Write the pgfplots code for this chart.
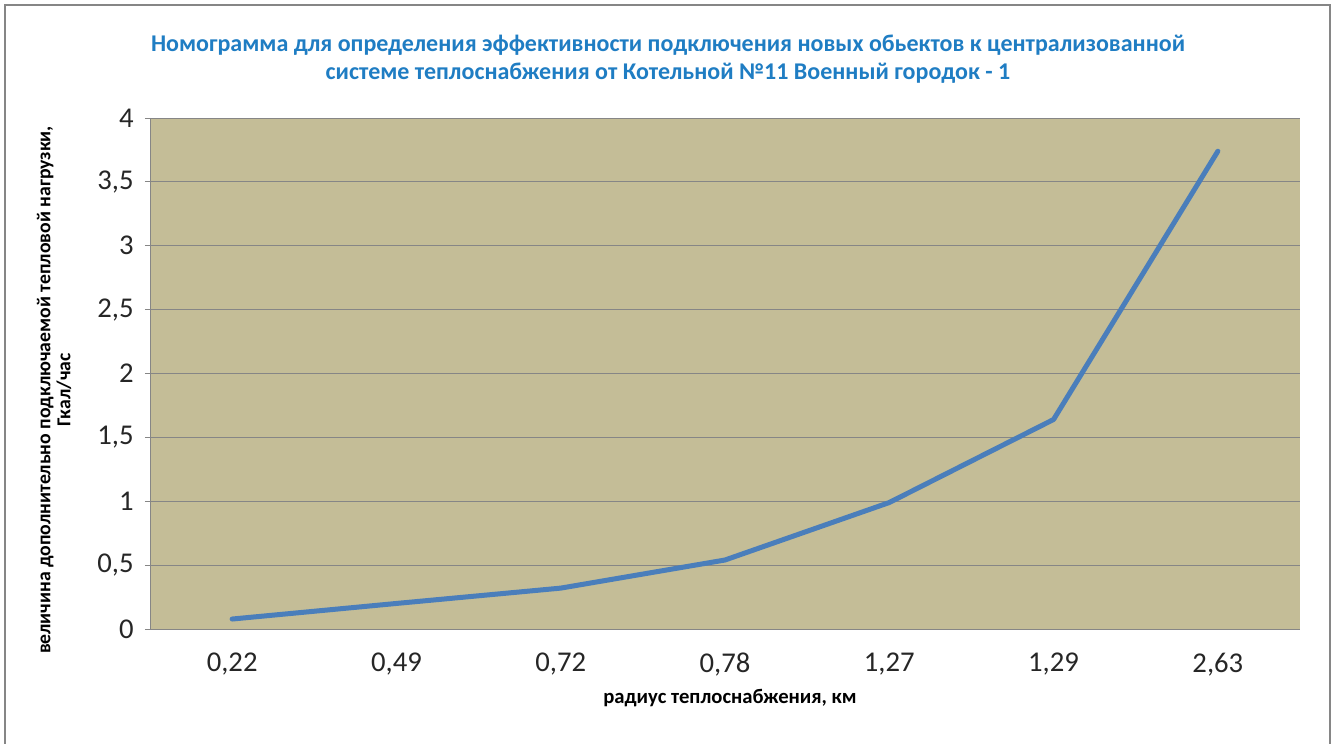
\documentclass[border=0pt]{standalone}
\usepackage{fontspec}
\setmainfont{Carlito}
\usepackage{pgfplots}
\pgfplotsset{compat=1.18}
\definecolor{bg}{HTML}{C4BD97}
\definecolor{ttl}{RGB}{31,125,195}
\definecolor{ln}{HTML}{4A7EBB}
\definecolor{grd}{HTML}{868686}
\definecolor{txt}{HTML}{262626}
\begin{document}
\begin{tikzpicture}[x=1pt,y=1pt]
\useasboundingbox (0,0) rectangle (1001.25,557.25);
\draw[grd, line width=1.5pt] (4,-5) -- (4,553.5) -- (997.5,553.5) -- (997.5,-5);
\begin{axis}[at={(112.5pt,85.5pt)}, anchor=south west, scale only axis,
  width=862.5pt, height=383.25pt,
  xmin=-0.5, xmax=6.5, ymin=0, ymax=4,
  ytick={0,0.5,1,1.5,2,2.5,3,3.5,4},
  xtick={0,1,2,3,4,5,6},
  xticklabels={{0,22},{0,49},{0,72},{0,78},{1,27},{1,29},{2,63}},
  axis x line=bottom, axis y line=left,
  axis line style={-, grd, line width=0.75pt},
  axis background/.style={fill=bg},
  ymajorgrids, major grid style={grd, line width=0.75pt},
  tick align=outside, major tick length=3.75pt,
  xtick style={draw=none},
  ytick style={grd, line width=0.75pt},
  /pgf/number format/use comma,
  /pgf/number format/assume math mode=true,
  tick label style={font=\fontsize{21.5}{24}\selectfont, text=txt},
  yticklabel style={xshift=-5pt},
  xticklabel style={yshift=-11pt},
  clip=false,
]
\addplot[ln, line width=3.75pt, line join=round, line cap=round] coordinates {
(0,0.078) (1,0.20) (2,0.32) (3,0.54) (4,0.99) (5,1.64) (6,3.74)};
\end{axis}
\node[text=ttl, font=\fontsize{18}{21}\selectfont\bfseries] at (501,523.5) {Номограмма для определения эффективности подключения новых обьектов к централизованной};
\node[text=ttl, font=\fontsize{18}{21}\selectfont\bfseries] at (501,502.5) {системе теплоснабжения от Котельной №11 Военный городок - 1};
\node[text=black, font=\fontsize{15.5}{17}\selectfont\bfseries] at (547.5,33.75) {радиус теплоснабжения, км};
\node[text=black, font=\fontsize{14.8}{15}\selectfont\bfseries, rotate=90, align=center] at (40.5,264.75) {величина дополнительно подключаемой тепловой нагрузки,\\ Гкал/час};
\end{tikzpicture}
\end{document}
